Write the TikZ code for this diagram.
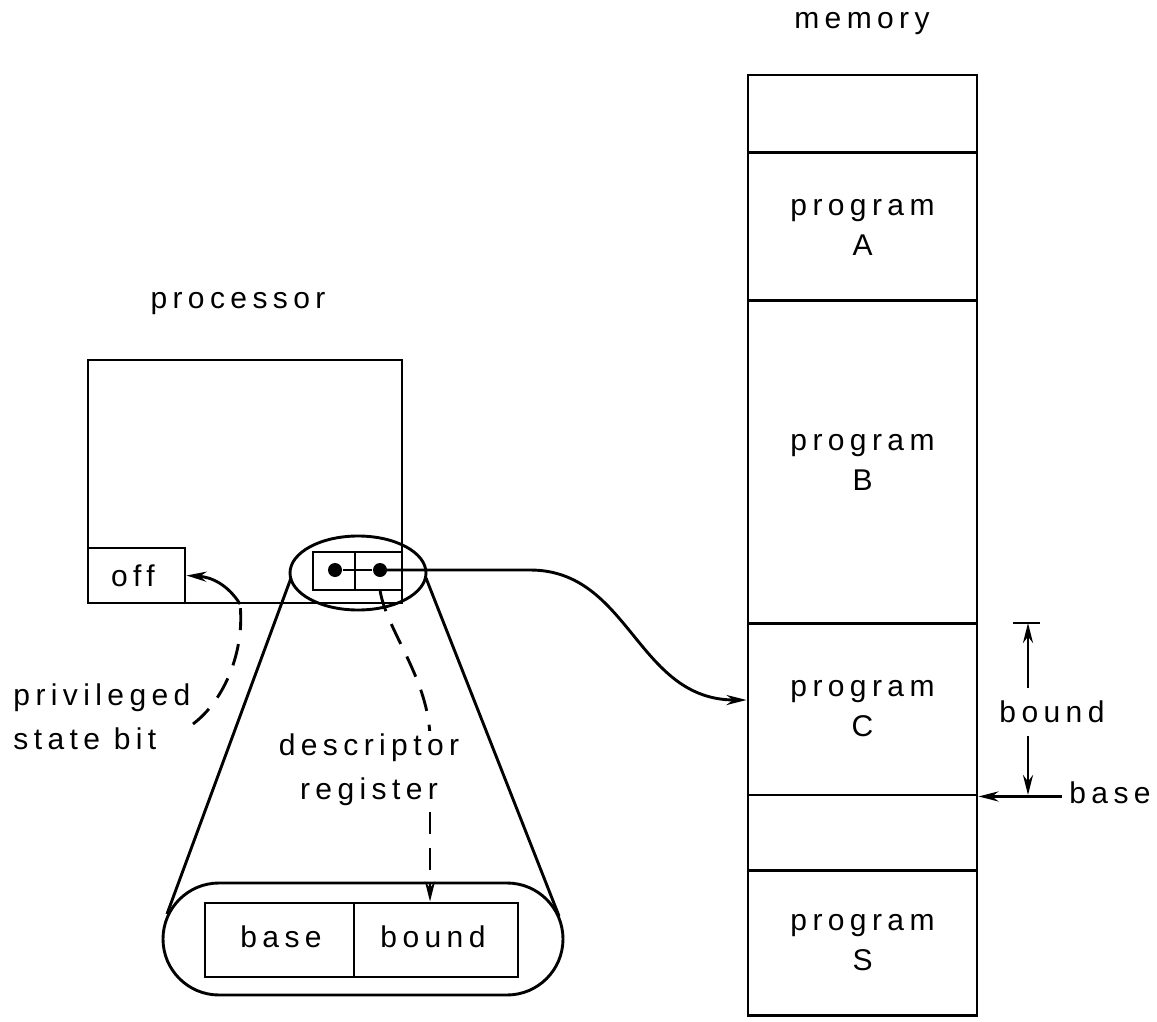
\documentclass[tikz,border=0pt]{standalone}
\usepackage{fontspec}
\setmainfont{Liberation Sans}[LetterSpace=18]
\usetikzlibrary{arrows.meta}
\tikzset{
  box/.style={draw, rectangle, inner sep=0pt},
  lbl/.style={inner sep=0pt, align=center},
  tip/.style={-{Stealth[length=20pt,width=10pt]}},
  dashline/.style={dash pattern=on 22pt off 14pt},
  dot/.style={circle, fill, inner sep=0pt, minimum size=14pt}
}
\begin{document}
\begin{tikzpicture}[x=1pt,y=-1pt,line width=2.9pt,font=\fontsize{30}{40}\selectfont]
\useasboundingbox (0,0) rectangle (1157,1022);

% ---- memory ----
\node[lbl] (memlbl) at (862,24) {memory};
\node[box, minimum width=229pt, minimum height=77pt]  (memtop) at (862.5,113.5) {};
\node[box, minimum width=229pt, minimum height=148pt, lbl] (progA) at (862.5,227) {program\\A};
\node[box, minimum width=229pt, minimum height=323pt, lbl] (progB) at (862.5,462) {program\\B};
\node[box, minimum width=229pt, minimum height=172pt, lbl] (progC) at (862.5,709) {program\\C};
\node[box, minimum width=229pt, minimum height=75pt]  (memgap) at (862.5,832.5) {};
\node[box, minimum width=229pt, minimum height=145pt, lbl] (progS) at (862.5,943) {program\\S};

% bound / base dimension
\coordinate (btop) at (1028,623);
\coordinate (bbot) at (1028,795);
\node[inner xsep=0pt, inner ysep=12pt] (boundlbl) at (1052,712) {bound};
\node[inner sep=0pt] (baselbl) at (1110,793) {base};
\draw ([xshift=-15pt]btop) -- ([xshift=12pt]btop);
\draw[tip] (boundlbl.north -| btop) -- (btop);
\draw[tip] (boundlbl.south -| bbot) -- (bbot);
\draw[tip] ([xshift=-6pt]baselbl.west |- progC.south east) -- (progC.south east);

% ---- processor ----
\node[lbl] (proclbl) at (238,304) {processor};
\node[box, minimum width=314pt, minimum height=243pt] (proc) at (245,481.5) {};
\node[box, minimum width=97pt, minimum height=55pt] (off) at (136.5,575.5) {};
\node[inner sep=0pt] (offtxt) at (133,576) {off};

% descriptor register (small) and lens
\node[box, minimum width=42pt, minimum height=38pt] (descL) at (334,571) {};
\node[box, minimum width=47pt, minimum height=38pt] (descR) at (378.5,571) {};
\draw (358,573) ellipse [x radius=68, y radius=37];
\node[dot] (dotL) at (335,570) {};
\node[dot] (dotR) at (380,570) {};
\draw (dotL) -- (dotR);

% connector to program C
\draw[tip] (dotR.center) -- ++(150,0)
  .. controls +(100,0) and +(-110,0) .. ([yshift=9pt]progC.west);

% ---- expanded register ----
\draw[rounded corners=56pt] (163,883) rectangle (563,995);
\node[box, minimum width=149pt, minimum height=74pt] (rbase) at (279.5,940) {};
\node[box, minimum width=164pt, minimum height=74pt] (rbound) at (436,940) {};
\node[inner sep=0pt] (rbasetxt) at (281,937) {base};
\node[inner sep=0pt] (rboundtxt) at (433,937) {bound};

% lens lines
\coordinate (lensL) at (291,578);
\coordinate (lensR) at (426,578);
\coordinate (regL) at (167,914);
\coordinate (regR) at (559,916);
\draw (lensL) -- (regL);
\draw (lensR) -- (regR);

% descriptor register label and dashed arrow
\coordinate (dstart) at (380,590);
\coordinate (dbend) at (430,740);
\draw[dashline] (dstart) .. controls (386,630) and (430,680) .. (dbend);
\draw[dashline, tip] (dbend) -- (rbound.north -| dbend);
\node[lbl, fill=white, inner sep=3pt, font=\fontsize{30}{44}\selectfont] (desclbl) at (369,770) {descriptor\\register};

% privileged state bit
\node[align=left, inner sep=0pt, anchor=west, font=\fontsize{30}{44}\selectfont] (privlbl) at (12,717) {privileged\\state bit};
\coordinate (pend) at (193,724);
\coordinate (pbend) at (240,604);
\draw[dashline] (pend) .. controls (225,700) and (245,650) .. (pbend);
\draw[tip] (pbend) .. controls (228,585) and (212,577) .. (off.east);
\end{tikzpicture}
\end{document}
